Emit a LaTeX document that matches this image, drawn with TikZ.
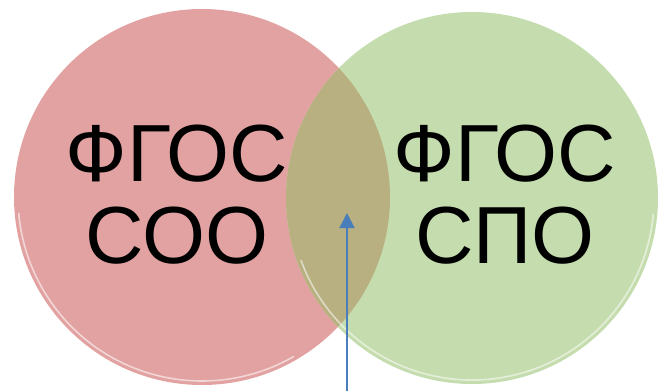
\documentclass[tikz,border=0pt]{standalone}
\usepackage{fontspec}
\setmainfont{Liberation Sans}
\usetikzlibrary{arrows.meta,positioning}
\definecolor{sooRed}{RGB}{227,162,162}
\definecolor{spoGreen}{RGB}{197,221,174}
\definecolor{bothOlive}{RGB}{184,176,128}
\definecolor{arrowBlue}{RGB}{74,126,187}
\tikzset{
	VD-Circle/.style={circle,inner sep=0pt,outer sep=0pt,minimum size=#1},
	VD-Rim/.style={white,line width=1.6pt,opacity=0.55},
	VD-Text/.style={align=center,font=\fontsize{81pt}{82pt}\selectfont,text=black},
	VD-Arrow/.style={-{Triangle[length=15pt,width=15pt]},line width=2pt,arrowBlue}
}

\begin{document}
\begin{tikzpicture}[x=1pt,y=-1pt]
	\useasboundingbox (0,0) rectangle (658,391);
	% the two sets
	\node[VD-Circle=376pt,fill=sooRed] (soo) at (202,197) {};
	\node[VD-Circle=372pt,fill=spoGreen] (spo) at (472,198) {};
	% common part
	\begin{scope}
		\clip (soo.center) circle (188);
		\fill[bothOlive] (spo.center) circle (186);
	\end{scope}
	% light rims along the lower edges
	\draw[VD-Rim] (soo.center) ++(175:184) arc [radius=184, start angle=175, end angle=60];
	\draw[VD-Rim] (spo.center) ++(160:182) arc [radius=182, start angle=160, end angle=5];
	\node[VD-Text] (sooText) at (177,195) {ФГОС\\СОО};
	\node[VD-Text] (spoText) at (505,195) {ФГОС\\СПО};
	% pointer to the common part
	\coordinate (foot) at (347,391);
	\coordinate (tip) at (347,213);
	\draw[VD-Arrow] (foot) -- (tip);
\end{tikzpicture}
\end{document}
